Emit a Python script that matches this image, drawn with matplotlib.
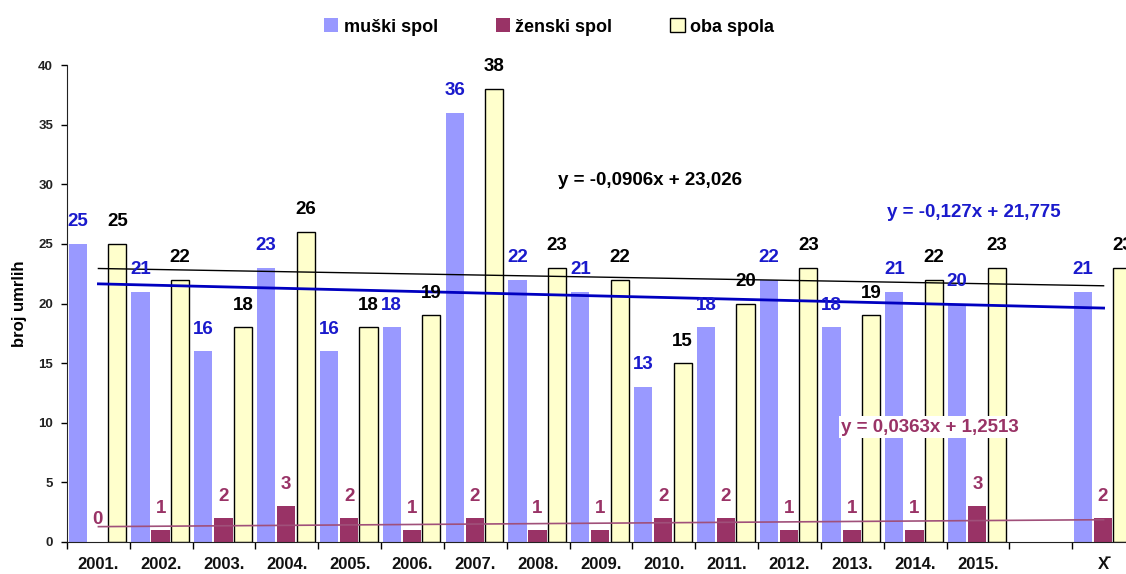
import numpy as np
import matplotlib
matplotlib.use("Agg")
import matplotlib.pyplot as plt
from matplotlib.patches import Patch

categories = ["2001.", "2002.", "2003.", "2004.", "2005.", "2006.", "2007.", "2008.",
              "2009.", "2010.", "2011.", "2012.", "2013.", "2014.", "2015.", "", "X\u0304"]
muski = [25, 21, 16, 23, 16, 18, 36, 22, 21, 13, 18, 22, 18, 21, 20, None, 21]
zenski = [0, 1, 2, 3, 2, 1, 2, 1, 1, 2, 2, 1, 1, 1, 3, None, 2]
oba = [25, 22, 18, 26, 18, 19, 38, 23, 22, 15, 20, 23, 19, 22, 23, None, 23]

# trendline equations (slope, intercept) as printed on the chart
trend_oba = (-0.0906, 23.026)
trend_muski = (-0.127, 21.775)
trend_zenski = (0.0363, 1.2513)

plt.rcParams['font.family'] = ['Liberation Sans', 'DejaVu Sans']
plt.rcParams['font.weight'] = 'bold'

C_M = '#9999FF'
C_Z = '#993366'
C_O = '#FFFFCC'
C_MT = '#1A1ACC'

fig = plt.figure(figsize=(11.26, 5.74), dpi=100)
ax = fig.add_axes([67/1126, 32/574, (1135-67)/1126, (542-65)/574])

n = len(categories)
x = np.arange(n)
w = 0.29
offs = [-0.33, -0.01, 0.30]
LS = 13.5

for i in range(n):
    if muski[i] is not None:
        ax.bar(x[i] + offs[0], muski[i], w, color=C_M, zorder=2)
        ax.text(x[i] + offs[0], muski[i] + 1.85, str(muski[i]), ha='center', va='center',
                color=C_MT, fontsize=LS, fontweight='bold', zorder=6)
    if zenski[i] is not None:
        ax.bar(x[i] + offs[1], zenski[i], w, color=C_Z, zorder=2)
        ax.text(x[i] + offs[1], zenski[i] + 1.85, str(zenski[i]), ha='center', va='center',
                color=C_Z, fontsize=LS, fontweight='bold', zorder=6)
    if oba[i] is not None:
        ax.bar(x[i] + offs[2], oba[i], w, color=C_O, edgecolor='black', linewidth=1.0, zorder=2)
        ax.text(x[i] + offs[2], oba[i] + 1.85, str(oba[i]), ha='center', va='center',
                color='black', fontsize=LS, fontweight='bold', zorder=6)

xt = np.array([0, n - 1])
xv = xt + 1
ax.plot(xt, trend_oba[0] * xv + trend_oba[1], color='black', lw=1.0, zorder=4)
ax.plot(xt, trend_muski[0] * xv + trend_muski[1], color='#0000C0', lw=2.0, zorder=4)
ax.plot(xt, trend_zenski[0] * xv + trend_zenski[1], color='#A0507A', lw=1.2, zorder=4)

def fmt(v):
    return str(v).replace('.', ',')

eq_kw = dict(fontsize=13.5, fontweight='bold', ha='center', va='center', zorder=7,
             bbox=dict(facecolor='white', edgecolor='none', pad=2))
ax.text(8.78, 30.3, f"y = {fmt(trend_oba[0])}x + {fmt(trend_oba[1])}", color='black', **eq_kw)
ax.text(13.93, 27.67, f"y = {fmt(trend_muski[0])}x + {fmt(trend_muski[1])}", color=C_MT, **eq_kw)
ax.text(13.24, 9.64, f"y = {fmt(trend_zenski[0])}x + {fmt(trend_zenski[1])}", color=C_Z, **eq_kw)

ax.set_xlim(-0.5, n - 0.5)
ax.set_ylim(0, 40)
ax.set_yticks(range(0, 41, 5))
ax.set_xticks(x)
ax.set_xticklabels(categories)
ax.set_xticks(np.arange(-0.5, n, 1.0), minor=True)
ax.tick_params(axis='x', which='major', length=0, pad=11, labelsize=12, labelcolor='#111111')
ax.tick_params(axis='x', which='minor', length=5, width=1, direction='out')
ax.tick_params(axis='y', length=4, width=1, labelsize=9.5, labelcolor='#222222', pad=6)
for lab in ax.get_xticklabels() + ax.get_yticklabels():
    lab.set_fontweight('bold')
ax.spines['top'].set_visible(False)
ax.spines['right'].set_visible(False)
ax.spines['left'].set_color('#222222')
ax.spines['bottom'].set_color('#222222')
ax.set_ylabel("broj umrlih", fontsize=12, fontweight='bold', labelpad=8)

handles = [Patch(facecolor=C_M, edgecolor='none'),
           Patch(facecolor=C_Z, edgecolor='none'),
           Patch(facecolor=C_O, edgecolor='black', linewidth=1.0)]
fig.legend(handles, ["muški spol", "ženski spol", "oba spola"], loc='center',
           bbox_to_anchor=(549/1126, 1 - 27/574), ncol=3, frameon=False,
           prop=dict(size=13, weight='bold'), handlelength=0.8, handleheight=0.8,
           handletextpad=0.3, columnspacing=3.2)

fig.savefig("out.png", dpi=100)
